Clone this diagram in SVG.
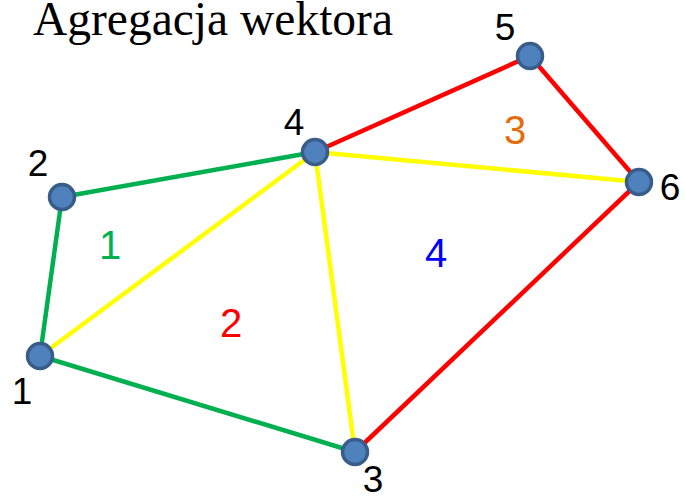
<svg xmlns="http://www.w3.org/2000/svg" width="685" height="496" viewBox="0 0 685 496">
<style>
.e{stroke-width:4.5;fill:none}
.g{stroke:#00B050}.y{stroke:#FFFF00}.r{stroke:#FF0000}
.n{fill:#4F81BD;stroke:#385D8A;stroke-width:3.5}
.l{font-family:"Liberation Sans",Arial,sans-serif;font-size:37px;fill:#000;text-anchor:middle}
.a{font-family:"Liberation Sans",Arial,sans-serif;font-size:40px;text-anchor:middle}
.t{font-family:"Liberation Serif","Times New Roman",serif;font-size:47.5px;fill:#000}
</style>
<rect width="685" height="496" fill="#fff"/>
<text class="t" x="33" y="35">Agregacja wektora</text>
<g id="connectors">
<line class="e g" x1="40" y1="356" x2="62" y2="197"/>
<line class="e g" x1="62" y1="197" x2="315" y2="152"/>
<line class="e g" x1="40" y1="356" x2="355" y2="452"/>
<line class="e y" x1="40" y1="356" x2="315" y2="152"/>
<line class="e y" x1="315" y1="152" x2="355" y2="452"/>
<line class="e y" x1="315" y1="152" x2="639" y2="182"/>
<line class="e r" x1="315" y1="152" x2="530" y2="56"/>
<line class="e r" x1="530" y1="56" x2="639" y2="182"/>
<line class="e r" x1="639" y1="182" x2="355" y2="452"/>
</g>
<g id="areas">
<text class="a" x="110" y="259" fill="#00B050">1</text>
<text class="a" x="231" y="337" fill="#FF0000">2</text>
<text class="a" x="515" y="144" fill="#E46C0A">3</text>
<text class="a" x="436" y="267" fill="#0000FF">4</text>
</g>
<g id="node1"><circle class="n" cx="40" cy="356" r="12.5"/><text class="l" x="22" y="404">1</text></g>
<g id="node2"><circle class="n" cx="62" cy="197" r="12.5"/><text class="l" x="38" y="176">2</text></g>
<g id="node3"><circle class="n" cx="355" cy="452" r="12.5"/><text class="l" x="373" y="492">3</text></g>
<g id="node4"><circle class="n" cx="315" cy="152" r="12.5"/><text class="l" x="294" y="135">4</text></g>
<g id="node5"><circle class="n" cx="530" cy="56" r="12.5"/><text class="l" x="505" y="40">5</text></g>
<g id="node6"><circle class="n" cx="639" cy="182" r="12.5"/><text class="l" x="670" y="200">6</text></g>
</svg>
